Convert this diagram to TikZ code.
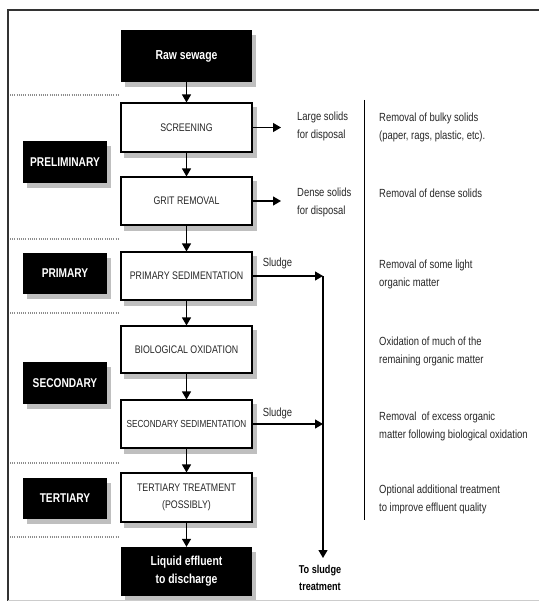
\documentclass[tikz,border=0pt]{standalone}
\usepackage{fontspec}
\setmainfont{Liberation Sans}[FakeStretch=0.8]
\usetikzlibrary{arrows.meta,backgrounds}
\begin{document}
\begin{tikzpicture}[x=1pt,y=-1pt,
  procbox/.style={draw=black, line width=1.1pt, fill=white, minimum width=131pt, inner sep=0pt, align=center, font=\fontsize{11}{17}\selectfont, text=black!85},
  endbox/.style={fill=black, text=white, minimum width=131pt, inner sep=0pt, align=center, font=\bfseries\fontsize{13}{18}\selectfont},
  stagebox/.style={fill=black, text=white, minimum width=84pt, minimum height=42pt, inner sep=0pt, font=\bfseries\fontsize{12.7}{15}\selectfont},
  note/.style={anchor=west, align=left, inner sep=0pt, font=\fontsize{11.8}{18}\selectfont, text=black!85},
  flow/.style={line width=1.2pt, -{Triangle[width=9pt,length=8pt]}},
  sepline/.style={black!45, line width=1.3pt, dash pattern=on 1pt off 1.2pt},
  shadowfill/.style={fill=black!25}
]
\useasboundingbox (0,0) rectangle (539,601);
% frame
\draw[line width=1.3pt, black!80] (8,601) -- (8,10) -- (539,10);
\draw[line width=1pt, black!20] (8,600) -- (539,600);
% separators
\foreach \yy in {95,239,313,463,537} \draw[sepline] (10,\yy) -- (120,\yy);
% process boxes
\node[endbox, minimum height=52pt] (raw) at (186.5,56) {Raw sewage};
\node[procbox, minimum height=49pt] (screen) at (186.5,127.5) {SCREENING};
\node[procbox, minimum height=48pt] (grit) at (186.5,201) {GRIT REMOVAL};
\node[procbox, minimum height=48pt] (psed) at (186.5,276) {PRIMARY SEDIMENTATION};
\node[procbox, minimum height=47pt] (bio) at (186.5,349.5) {BIOLOGICAL OXIDATION};
\node[procbox, minimum height=48pt, font=\fontsize{10.2}{17}\selectfont] (ssed) at (186.5,424) {SECONDARY SEDIMENTATION};
\node[procbox, minimum height=49pt] (tert) at (186.5,497.5) {TERTIARY TREATMENT\\(POSSIBLY)};
\node[endbox, minimum height=49pt] (liq) at (186.5,571.5) {Liquid effluent\\to discharge};
% stage labels
\node[stagebox] (prelim) at (65,162) {PRELIMINARY};
\node[stagebox, minimum height=41pt] (prim) at (65,273.5) {PRIMARY};
\node[stagebox] (sec) at (65,383) {SECONDARY};
\node[stagebox, minimum height=41pt] (ter) at (65,498.5) {TERTIARY};
% shadows
\begin{scope}[on background layer]
\foreach \n in {raw,screen,grit,psed,bio,ssed,tert,liq,prelim,prim,sec,ter}
  \fill[shadowfill] ([shift={(4,5)}]\n.north west) rectangle ([shift={(4,5)}]\n.south east);
\end{scope}
% main flow
\draw[flow] (raw) -- (screen);
\draw[flow] (screen) -- (grit);
\draw[flow] (grit) -- (psed);
\draw[flow] (psed) -- (bio);
\draw[flow] (bio) -- (ssed);
\draw[flow] (ssed) -- (tert);
\draw[flow] (tert) -- (liq);
% side outputs
\coordinate (scrEnd) at (281,127.5);
\coordinate (gritEnd) at (281,201);
\draw[flow] (screen.east) -- (scrEnd);
\draw[flow] (grit.east) -- (gritEnd);
\node[note] (large) at (297,126) {Large solids\\for disposal};
\node[note] (dense) at (297,202) {Dense solids\\for disposal};
% sludge
\coordinate (sl1) at (323,276);
\coordinate (sl2) at (323,424);
\coordinate (slBot) at (323,558);
\draw[flow] (psed.east) -- (sl1);
\draw[flow] (ssed.east) -- (sl2);
\draw[flow] (sl1) -- (slBot);
\node[font=\fontsize{11.8}{14}\selectfont, text=black!85, inner sep=0pt] (sludgeA) at (277.5,263) {Sludge};
\node[font=\fontsize{11.8}{14}\selectfont, text=black!85, inner sep=0pt] (sludgeB) at (277.5,413) {Sludge};
\node[font=\bfseries\fontsize{11.4}{17}\selectfont, align=center, inner sep=0pt] (tosl) at (320,578) {To sludge\\treatment};
% right column
\coordinate (vt) at (364,100);
\coordinate (vb) at (364,520);
\draw[line width=1pt] (vt) -- (vb);
\node[note] (d1) at (379,127) {Removal of bulky solids\\(paper, rags, plastic, etc).};
\node[note] (d2) at (379,193) {Removal of dense solids};
\node[note] (d3) at (379,274) {Removal of some light\\organic matter};
\node[note] (d4) at (379,351) {Oxidation of much of the\\remaining organic matter};
\node[note] (d5) at (379,426) {Removal\ \ of excess organic\\matter following biological oxidation};
\node[note] (d6) at (379,499) {Optional additional treatment\\to improve effluent quality};
\end{tikzpicture}
\end{document}
